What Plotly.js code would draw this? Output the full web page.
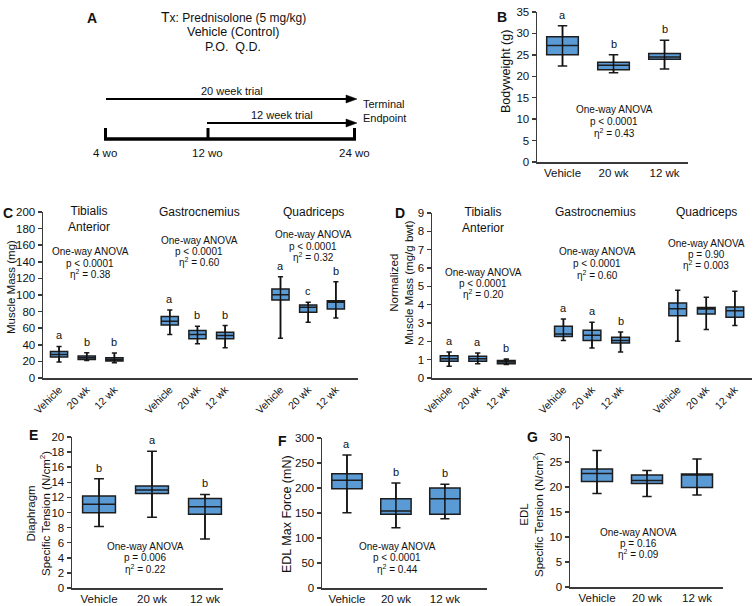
<!DOCTYPE html>
<html><head><meta charset="utf-8">
<script src="https://cdn.plot.ly/plotly-3.0.1.min.js"></script>
<style>html,body{margin:0;padding:0;background:#fff}</style>
</head><body><div id="chart" style="width:754px;height:606px"></div>
<script>
// ---------------- DATA ----------------
const groups = ['Vehicle', '20 wk', '12 wk'];
const muscles = ['Tibialis<br>Anterior', 'Gastrocnemius', 'Quadriceps'];

// B: Bodyweight (g)
const bwQ1  = [25.0, 21.5, 24.0];
const bwMed = [27.2, 22.6, 24.5];
const bwQ3  = [29.2, 23.3, 25.3];
const bwLo  = [22.4, 20.8, 21.7];
const bwHi  = [31.8, 25.0, 28.4];
const bwLetters = ['a', 'b', 'b'];
const bwStats = ['One-way ANOVA', 'p &lt; 0.0001', 'η<sup>2</sup> = 0.43'];

// C: Muscle mass (mg)  [TA x3, Gastroc x3, Quad x3]
const massQ1  = [25.2, 22.4, 20.4, 64.0, 47.2, 47.2, 94.0, 79.2, 83.2];
const massMed = [28.4, 24.4, 22.4, 68.4, 52.4, 51.2, 100.4, 85.2, 91.2];
const massQ3  = [32.0, 26.4, 24.4, 74.0, 57.2, 55.2, 107.2, 88.0, 93.2];
const massLo  = [19.2, 21.2, 18.4, 52.4, 41.2, 36.4, 48.0, 67.2, 72.4];
const massHi  = [38.0, 30.4, 30.0, 82.0, 62.4, 63.2, 122.0, 91.2, 116.0];
const massLetters = ['a', 'b', 'b', 'a', 'b', 'b', 'a', 'c', 'b'];
const massStats = [
  ['One-way ANOVA', 'p &lt; 0.0001', 'η<sup>2</sup> = 0.38'],
  ['One-way ANOVA', 'p &lt; 0.0001', 'η<sup>2</sup> = 0.60'],
  ['One-way ANOVA', 'p &lt; 0.0001', 'η<sup>2</sup> = 0.32']
];

// D: Normalized muscle mass (mg/g bwt)
const normQ1  = [0.91, 0.91, 0.78, 2.27, 2.05, 1.91, 3.40, 3.49, 3.31];
const normMed = [1.05, 1.05, 0.87, 2.40, 2.33, 2.05, 3.78, 3.76, 3.67];
const normQ3  = [1.22, 1.18, 0.96, 2.82, 2.60, 2.22, 4.09, 3.85, 3.87];
const normLo  = [0.64, 0.78, 0.73, 2.04, 1.64, 1.42, 2.00, 2.64, 2.87];
const normHi  = [1.42, 1.36, 1.04, 3.22, 3.04, 2.51, 4.78, 4.40, 4.73];
const normLetters = ['a', 'a', 'b', 'a', 'a', 'b', '', '', ''];
const normStats = [
  ['One-way ANOVA', 'p &lt; 0.0001', 'η<sup>2</sup> = 0.20'],
  ['One-way ANOVA', 'p &lt; 0.0001', 'η<sup>2</sup> = 0.60'],
  ['One-way ANOVA', 'p = 0.90', 'η<sup>2</sup> = 0.003']
];

// E: Diaphragm specific tension (N/cm2)
const diaQ1  = [9.98, 12.53, 9.76];
const diaMed = [11.08, 12.97, 10.77];
const diaQ3  = [12.18, 13.50, 11.87];
const diaLo  = [8.13, 9.36, 6.50];
const diaHi  = [14.46, 18.10, 12.40];
const diaLetters = ['b', 'a', 'b'];
const diaStats = ['One-way ANOVA', 'p = 0.006', 'η<sup>2</sup> = 0.22'];

// F: EDL max force (mN)
const forceQ1  = [198.7, 147.3, 147.3];
const forceMed = [215.3, 154.0, 178.7];
const forceQ3  = [228.7, 178.7, 200.0];
const forceLo  = [150.7, 120.7, 138.7];
const forceHi  = [266.0, 210.0, 207.3];
const forceLetters = ['a', 'b', 'b'];
const forceStats = ['One-way ANOVA', 'p &lt; 0.0001', 'η<sup>2</sup> = 0.44'];

// G: EDL specific tension (N/cm2)
const edlQ1  = [21.1, 20.7, 19.9];
const edlMed = [22.7, 21.3, 22.4];
const edlQ3  = [23.6, 22.4, 22.6];
const edlLo  = [18.7, 18.1, 18.4];
const edlHi  = [27.3, 23.3, 25.6];
const edlLetters = ['', '', ''];
const edlStats = ['One-way ANOVA', 'p = 0.16', 'η<sup>2</sup> = 0.09'];

// Panel A timeline labels
const timeLabels = ['4 wo', '12 wo', '24 wo'];
const trialLabels = ['20 week trial', '12 week trial'];

// ---------------- LAYOUT HELPERS ----------------
const W = 754, H = 606;
const fx = p => p / W;
const fy = p => 1 - p / H;
const FONT = 'Liberation Sans, Arial, Helvetica, sans-serif';
const TXT = '#111';
const AXIS = '#3a3a3a';
const BOX_FILL = '#5b9bd5';
const BOX_LINE = '#1d1d1d';

const layout = {
  width: W, height: H,
  margin: {l: 0, r: 0, t: 0, b: 0},
  paper_bgcolor: '#fff', plot_bgcolor: 'rgba(0,0,0,0)',
  showlegend: false,
  font: {family: FONT, color: TXT, size: 11},
  annotations: [], shapes: []
};
const traces = [];

function txt(text, x, y, size, extra) {
  layout.annotations.push(Object.assign({
    text: text, xref: 'paper', yref: 'paper', x: fx(x), y: fy(y),
    xanchor: 'center', yanchor: 'middle', showarrow: false,
    font: {family: FONT, size: size, color: TXT}
  }, extra || {}));
}
function lines(arr, x, y0, dy, size) {
  arr.forEach((t, i) => txt(t, x, y0 + i * dy, size));
}

function panel(n, px, xr, yr, dtick, pos, tickangle, xfs, q1, med, q3, lo, hi, letters) {
  const xk = n === 1 ? 'xaxis' : 'xaxis' + n;
  const yk = n === 1 ? 'yaxis' : 'yaxis' + n;
  const xa = n === 1 ? 'x' : 'x' + n;
  const ya = n === 1 ? 'y' : 'y' + n;
  const tt = pos.map((p, i) => groups[i % 3]);
  layout[xk] = {
    domain: [fx(px[0]), fx(px[1])], range: xr, anchor: ya,
    showgrid: false, zeroline: false, showline: true, linecolor: AXIS, linewidth: 1.5,
    ticks: '', tickmode: 'array', tickvals: pos, ticktext: tt, tickangle: tickangle,
    tickfont: {family: FONT, size: xfs, color: TXT}, fixedrange: true
  };
  layout[yk] = {
    domain: [fy(px[3]), fy(px[2])], range: yr, anchor: xa,
    tick0: 0, dtick: dtick,
    showgrid: false, zeroline: false, showline: true, linecolor: AXIS, linewidth: 1.5,
    ticks: 'outside', ticklen: 4, tickwidth: 1.5, tickcolor: AXIS,
    tickfont: {family: FONT, size: 11.5, color: TXT}, fixedrange: true
  };
  traces.push({
    type: 'box', xaxis: xa, yaxis: ya, x: pos,
    q1: q1, median: med, q3: q3, lowerfence: lo, upperfence: hi,
    width: 0.62, whiskerwidth: 0.3, boxpoints: false,
    fillcolor: BOX_FILL, line: {color: BOX_LINE, width: 1.5},
    hoverinfo: 'skip', showlegend: false
  });
  // whisker line running through the box
  const wx = [], wy = [];
  pos.forEach((p, i) => { wx.push(p, p, null); wy.push(lo[i], hi[i], null); });
  traces.push({
    type: 'scatter', mode: 'lines', xaxis: xa, yaxis: ya, x: wx, y: wy,
    line: {color: '#111', width: 1.5}, hoverinfo: 'skip', showlegend: false
  });
  letters.forEach((l, i) => {
    if (!l) return;
    layout.annotations.push({
      text: l, xref: xa, yref: ya, x: pos[i], y: hi[i],
      xanchor: 'center', yanchor: 'bottom', yshift: 3, showarrow: false,
      font: {family: FONT, size: 11, color: TXT}
    });
  });
}

const pos3 = [0, 1, 2];
const pos9 = [];
muscles.forEach((m, g) => groups.forEach((gr, k) => pos9.push(g * 4 + k)));

// B
panel(1, [537, 688, 12, 162], [-0.5, 2.46], [0, 35], 5, pos3, 0, 11.5, bwQ1, bwMed, bwQ3, bwLo, bwHi, bwLetters);
// C
panel(2, [43, 358, 212, 378], [-0.58, 10.8], [0, 200], 20, pos9, -45, 10.5, massQ1, massMed, massQ3, massLo, massHi, massLetters);
// D
panel(3, [432, 752, 213, 378], [-0.6, 10.6], [0, 9], 1, pos9, -45, 10.5, normQ1, normMed, normQ3, normLo, normHi, normLetters);
// E
panel(4, [72, 223, 437, 588], [-0.51, 2.34], [0, 20], 2, pos3, 0, 11.5, diaQ1, diaMed, diaQ3, diaLo, diaHi, diaLetters);
// F
panel(5, [322, 487, 438, 588], [-0.51, 2.86], [0, 300], 50, pos3, 0, 11.5, forceQ1, forceMed, forceQ3, forceLo, forceHi, forceLetters);
// G
panel(6, [570, 723, 437, 587], [-0.54, 2.52], [0, 30], 5, pos3, 0, 11.5, edlQ1, edlMed, edlQ3, edlLo, edlHi, edlLetters);

// Panel letters
const bold = s => '<b>' + s + '</b>';
txt(bold('A'), 92, 18, 14);
txt(bold('B'), 502, 17, 14);
txt(bold('C'), 8, 213, 14);
txt(bold('D'), 400, 213, 14);
txt(bold('E'), 33, 435, 14);
txt(bold('F'), 282, 441, 14);
txt(bold('G'), 532, 437, 14);

// Y axis titles
txt('Bodyweight (g)', 506, 72, 12.5, {textangle: -90});
txt('Muscle Mass (mg)', 11, 287, 11.5, {textangle: -90});
txt('Normalized<br>Muscle Mass (mg/g bwt)', 401, 283, 11.5, {textangle: -90});
txt('Diaphragm<br>Specific Tension (N/cm<sup>2</sup>)', 38, 514, 11.5, {textangle: -90});
txt('EDL Max Force (mN)', 287, 514, 12.5, {textangle: -90});
txt('EDL<br>Specific Tension (N/cm<sup>2</sup>)', 531, 515, 11.5, {textangle: -90});

// Muscle group titles
txt(muscles[0], 89, 219, 12);
txt(muscles[1], 199, 212, 12);
txt(muscles[2], 313, 212, 12);
txt(muscles[0], 483, 220, 12);
txt(muscles[1], 595, 212, 12);
txt(muscles[2], 706, 212, 12);

// Stats blocks
lines(bwStats, 614, 110, 11.5, 10);
lines(massStats[0], 90, 252, 11.2, 10);
lines(massStats[1], 199, 240, 11.2, 10);
lines(massStats[2], 313, 235, 11.2, 10);
lines(normStats[0], 483, 272, 11.2, 10);
lines(normStats[1], 597, 252, 11.5, 10);
lines(normStats[2], 706, 243, 11.2, 10);
lines(diaStats, 145, 546, 11.5, 10);
lines(forceStats, 397, 546, 11.5, 10);
lines(edlStats, 638, 532, 11, 10);

// ---------------- PANEL A ----------------
txt('<span style="font-size:14px">T</span>x: Prednisolone (5 mg/kg)', 233, 17, 12);
txt('Vehicle (Control)', 233, 32, 12.5);
txt('P.O.  Q.D.', 233, 47, 12.5);
txt(trialLabels[0], 232, 91, 11);
txt(trialLabels[1], 282, 115, 11);
txt('Terminal<br>Endpoint', 361, 111, 11, {xanchor: 'left', align: 'left'});
txt(timeLabels[0], 105, 153, 11.5);
txt(timeLabels[1], 207, 153, 11.5);
txt(timeLabels[2], 354, 153, 11.5);

function seg(x0, y0, x1, y1, w) {
  layout.shapes.push({type: 'line', xref: 'paper', yref: 'paper',
    x0: fx(x0), y0: fy(y0), x1: fx(x1), y1: fy(y1), line: {color: '#000', width: w}});
}
function head(x, y) {
  layout.shapes.push({type: 'path', xref: 'paper', yref: 'paper',
    path: 'M' + fx(x - 11) + ',' + fy(y - 4) + ' L' + fx(x) + ',' + fy(y) + ' L' + fx(x - 11) + ',' + fy(y + 4) + ' Z',
    fillcolor: '#000', line: {color: '#000', width: 0.5}});
}
seg(106, 99, 348, 99, 2.2); head(357, 99);
seg(207, 123, 348, 123, 2.2); head(357, 123);
seg(104, 139, 356, 139, 3.5);
seg(105.5, 128, 105.5, 140, 3);
seg(208, 128, 208, 140, 3);
seg(354.5, 128, 354.5, 140, 3);

Plotly.newPlot('chart', traces, layout, {displayModeBar: false, staticPlot: true});
</script>
</body></html>
